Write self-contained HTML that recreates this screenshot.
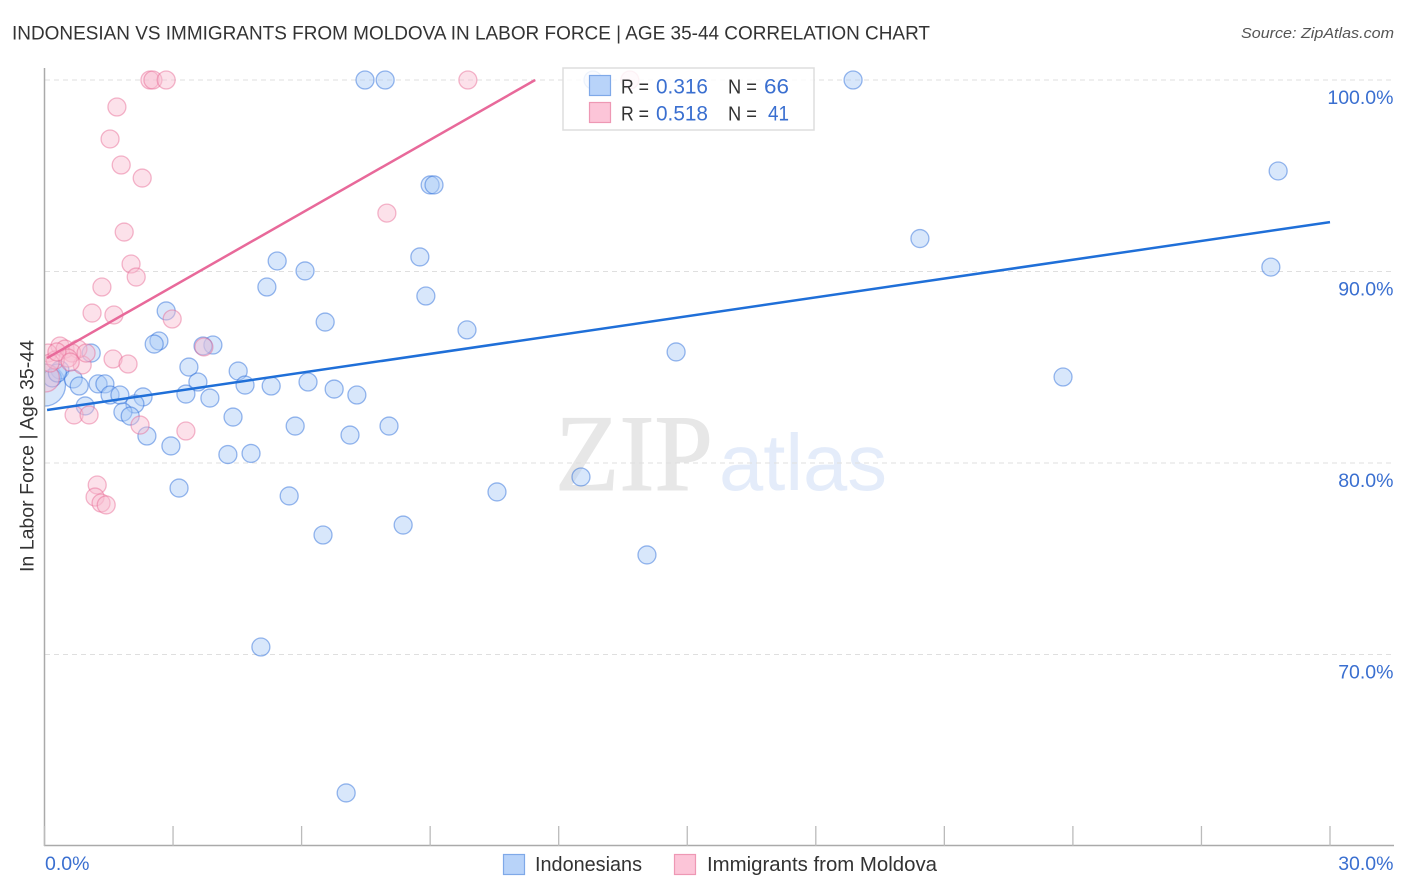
<!DOCTYPE html>
<html lang="en">
<head>
<meta charset="utf-8">
<title>Indonesian vs Immigrants from Moldova in Labor Force | Age 35-44 Correlation Chart</title>
<style>
html,body{margin:0;padding:0;background:#fff;}
svg{display:block;font-family:"Liberation Sans",sans-serif;}
</style>
</head>
<body>
<svg id="chart" xmlns="http://www.w3.org/2000/svg" width="1406" height="892" viewBox="0 0 1406 892">
  <defs><clipPath id="plot-clip"><rect x="45" y="40" width="1361" height="806"/></clipPath></defs>
  <rect x="0" y="0" width="1406" height="892" fill="#fff"/>
  <text x="12" y="39.500" font-size="19.500" fill="#333" textLength="918" lengthAdjust="spacingAndGlyphs">INDONESIAN VS IMMIGRANTS FROM MOLDOVA IN LABOR FORCE | AGE 35-44 CORRELATION CHART</text>
  <text x="1241" y="38" font-size="15" font-style="italic" fill="#555" textLength="153" lengthAdjust="spacingAndGlyphs">Source: ZipAtlas.com</text>
  <g>
    <text x="555" y="490" font-family="'Liberation Serif',serif" font-size="109" fill="#e7e7e7" stroke="#e7e7e7" stroke-width="1" textLength="158" lengthAdjust="spacingAndGlyphs">ZIP</text>
    <text x="719" y="490" font-size="80" fill="#e4ecfa" textLength="168" lengthAdjust="spacingAndGlyphs">atlas</text>
  </g>
  <g id="grid"></g>
  <g id="points" clip-path="url(#plot-clip)"></g>
  <g id="lines" clip-path="url(#plot-clip)"></g>
  <rect x="0" y="60" width="44.500" height="786" fill="#fff"/>
  <g id="axes"></g>
  <text transform="translate(33.500,572) rotate(-90)" font-size="19" fill="#333" textLength="232" lengthAdjust="spacingAndGlyphs">In Labor Force | Age 35-44</text>
  <g>
    <rect x="563" y="68" width="251" height="62" fill="#fff" fill-opacity="0.84" stroke="#dedede" stroke-width="1.500"/>
    <rect x="589.500" y="75.500" width="21" height="20" fill="#b8d3f9" stroke="#7fa9e8" stroke-width="1.200"/>
    <rect x="589.500" y="102.500" width="21" height="20" fill="#fcc5d8" stroke="#ee98b4" stroke-width="1.200"/>
    <text x="621" y="93.500" font-size="20" fill="#333" textLength="28" lengthAdjust="spacingAndGlyphs">R =</text>
    <text x="656" y="93.500" font-size="21" fill="#3a6fd0" textLength="52" lengthAdjust="spacingAndGlyphs">0.316</text>
    <text x="728" y="93.500" font-size="20" fill="#333" textLength="29" lengthAdjust="spacingAndGlyphs">N =</text>
    <text x="764" y="93.500" font-size="21" fill="#3a6fd0" textLength="25" lengthAdjust="spacingAndGlyphs">66</text>
    <text x="621" y="120.500" font-size="20" fill="#333" textLength="28" lengthAdjust="spacingAndGlyphs">R =</text>
    <text x="656" y="120.500" font-size="21" fill="#3a6fd0" textLength="52" lengthAdjust="spacingAndGlyphs">0.518</text>
    <text x="728" y="120.500" font-size="20" fill="#333" textLength="29" lengthAdjust="spacingAndGlyphs">N =</text>
    <text x="768" y="120.500" font-size="21" fill="#3a6fd0" textLength="21" lengthAdjust="spacingAndGlyphs">41</text>
  </g>
  <g>
    <g>
      <rect x="503.500" y="854.500" width="21" height="20" fill="#b8d3f9" stroke="#7fa9e8" stroke-width="1.200"/>
      <text x="535" y="871" font-size="20" fill="#333" textLength="107" lengthAdjust="spacingAndGlyphs">Indonesians</text>
    </g>
    <g>
      <rect x="674.500" y="854.500" width="21" height="20" fill="#fcc5d8" stroke="#ee98b4" stroke-width="1.200"/>
      <text x="707" y="871" font-size="20" fill="#333" textLength="230" lengthAdjust="spacingAndGlyphs">Immigrants from Moldova</text>
    </g>
  </g>
</svg>
<script>
const yTickValues = [100, 90, 80, 70];
const yTickLabels = ['100.0%', '90.0%', '80.0%', '70.0%'];
const xTickValues = [0, 3, 6, 9, 12, 15, 18, 21, 24, 27, 30];
const xEndLabels = ['0.0%', '30.0%'];

const indonesianX = [0, 12.80, 7.48, 7.95, 18.87, 28.79, 9.00, 9.09, 20.43, 28.62, 5.43, 6.08, 8.76, 5.19, 8.90, 2.84, 6.55, 9.86, 2.67, 2.56, 3.93, 3.70, 1.09, 14.74, 3.37, 4.52, 0.36, 0.18, 0.67, 0.81, 1.25, 1.41, 3.58, 4.68, 5.29, 6.15, 6.76, 7.29, 23.77, 1.53, 1.76, 2.30, 2.11, 3.30, 3.86, 0.95, 1.83, 2.00, 4.40, 5.85, 2.39, 7.13, 8.04, 2.95, 4.28, 4.82, 3.14, 5.71, 10.56, 12.52, 6.50, 8.37, 14.06, 5.05, 7.04, 0.30];
const indonesianY = [84.07, 100, 100, 100, 100, 95.25, 94.52, 94.52, 91.72, 90.23, 90.55, 90.03, 90.76, 89.19, 88.72, 87.94, 87.36, 86.95, 86.37, 86.21, 86.16, 86.11, 85.74, 85.80, 85.01, 84.80, 84.86, 84.44, 84.39, 84.02, 84.13, 84.13, 84.23, 84.07, 84.02, 84.23, 83.86, 83.55, 84.49, 83.55, 83.55, 83.45, 83.08, 83.60, 83.39, 82.98, 82.66, 82.45, 82.40, 81.93, 81.41, 81.46, 81.93, 80.89, 80.44, 80.50, 78.69, 78.28, 78.49, 79.27, 76.24, 76.76, 75.20, 70.39, 62.77, 84.70];

const moldovaX = [0.02, 2.46, 2.53, 2.84, 9.88, 13.66, 1.69, 1.53, 1.79, 2.28, 7.99, 1.86, 2.02, 2.14, 1.34, 1.11, 1.62, 2.98, 3.72, 1.60, 1.95, 0.88, 0.36, 0.48, 0.78, 0.08, 0.64, 0.97, 0.55, 0.25, 0.13, 0.29, 0.60, 0.69, 1.04, 3.30, 2.23, 1.23, 1.18, 1.32, 1.44];
const moldovaY = [84.44, 100, 100, 100, 100, 100, 98.59, 96.92, 95.56, 94.88, 93.05, 92.06, 90.39, 89.71, 89.19, 87.83, 87.73, 87.52, 86.06, 85.43, 85.17, 85.12, 86.11, 85.95, 85.95, 85.74, 85.74, 85.74, 85.48, 85.38, 85.22, 85.80, 85.27, 82.51, 82.51, 81.67, 81.98, 78.85, 78.22, 77.91, 77.81];

const indonesianTrendX = [0.06, 30];
const indonesianTrendY = [82.77, 92.58];
const moldovaTrendX = [0.06, 11.45];
const moldovaTrendY = [85.48, 100];

const largeIndonesianPoint = 0;
const largeMoldovaPoint = 0;

function xScale(v) { return 44.5 + v * 42.85; }
function yScale(v) { return 80 + (100 - v) * 19.15; }
function make(tag) { return document.createElementNS('http://www.w3.org/2000/svg', tag); }

const grid = document.getElementById('grid');
const axes = document.getElementById('axes');
const pointsLayer = document.getElementById('points');
const linesLayer = document.getElementById('lines');

yTickValues.forEach(function (v, i) {
  const line = make('line');
  
  
  line.setAttribute('x1', 45);
  line.setAttribute('x2', 1394);
  line.setAttribute('y1', yScale(v));
  line.setAttribute('y2', yScale(v));
  line.setAttribute('stroke', '#dfdfdf');
  line.setAttribute('stroke-width', '1');
  line.setAttribute('stroke-dasharray', '5 4');
  grid.appendChild(line);

  const label = make('text');
  
  
  label.setAttribute('x', 1393.5);
  label.setAttribute('y', yScale(v) + 24);
  label.setAttribute('text-anchor', 'end');
  label.setAttribute('font-size', '19.5');
  label.setAttribute('fill', '#3a6fd0');
  label.textContent = yTickLabels[i];
  axes.appendChild(label);
});

const yAxis = make('line');


yAxis.setAttribute('x1', 44.5);
yAxis.setAttribute('x2', 44.5);
yAxis.setAttribute('y1', 68);
yAxis.setAttribute('y2', 846);
yAxis.setAttribute('stroke', '#aaa');
yAxis.setAttribute('stroke-width', '1.500');
axes.appendChild(yAxis);

const xAxis = make('line');


xAxis.setAttribute('x1', 44);
xAxis.setAttribute('x2', 1394);
xAxis.setAttribute('y1', 845.5);
xAxis.setAttribute('y2', 845.5);
xAxis.setAttribute('stroke', '#aaa');
xAxis.setAttribute('stroke-width', '1.500');
axes.appendChild(xAxis);

xTickValues.forEach(function (v) {
  const tick = make('line');
  
  
  tick.setAttribute('x1', xScale(v));
  tick.setAttribute('x2', xScale(v));
  tick.setAttribute('y1', 826);
  tick.setAttribute('y2', 846);
  tick.setAttribute('stroke', '#bbb');
  tick.setAttribute('stroke-width', '1.300');
  axes.appendChild(tick);
});

const xLabelStart = make('text');


xLabelStart.setAttribute('x', 45);
xLabelStart.setAttribute('y', 870);
xLabelStart.setAttribute('font-size', '19.5');
xLabelStart.setAttribute('fill', '#3a6fd0');
xLabelStart.textContent = xEndLabels[0];
axes.appendChild(xLabelStart);

const xLabelEnd = make('text');


xLabelEnd.setAttribute('x', 1393.5);
xLabelEnd.setAttribute('y', 870);
xLabelEnd.setAttribute('text-anchor', 'end');
xLabelEnd.setAttribute('font-size', '19.5');
xLabelEnd.setAttribute('fill', '#3a6fd0');
xLabelEnd.textContent = xEndLabels[1];
axes.appendChild(xLabelEnd);

indonesianX.forEach(function (v, i) {
  const c = make('circle');
  
  
  c.setAttribute('cx', xScale(v));
  c.setAttribute('cy', yScale(indonesianY[i]));
  c.setAttribute('r', i === largeIndonesianPoint ? 21 : 9);
  c.setAttribute('fill', 'rgba(168,201,246,0.45)');
  c.setAttribute('stroke', 'rgba(30,100,215,0.45)');
  c.setAttribute('stroke-width', '1.300');
  pointsLayer.appendChild(c);
});

moldovaX.forEach(function (v, i) {
  const c = make('circle');
  
  
  c.setAttribute('cx', xScale(v));
  c.setAttribute('cy', yScale(moldovaY[i]));
  c.setAttribute('r', i === largeMoldovaPoint ? 14 : 9);
  c.setAttribute('fill', 'rgba(248,189,208,0.45)');
  c.setAttribute('stroke', 'rgba(230,100,145,0.45)');
  c.setAttribute('stroke-width', '1.300');
  pointsLayer.appendChild(c);
});

const blueTrend = make('line');


blueTrend.setAttribute('x1', xScale(indonesianTrendX[0]));
blueTrend.setAttribute('y1', yScale(indonesianTrendY[0]));
blueTrend.setAttribute('x2', xScale(indonesianTrendX[1]));
blueTrend.setAttribute('y2', yScale(indonesianTrendY[1]));
blueTrend.setAttribute('stroke', '#1f6fd8');
blueTrend.setAttribute('stroke-width', '2.500');
linesLayer.appendChild(blueTrend);

const pinkTrend = make('line');


pinkTrend.setAttribute('x1', xScale(moldovaTrendX[0]));
pinkTrend.setAttribute('y1', yScale(moldovaTrendY[0]));
pinkTrend.setAttribute('x2', xScale(moldovaTrendX[1]));
pinkTrend.setAttribute('y2', yScale(moldovaTrendY[1]));
pinkTrend.setAttribute('stroke', '#e8699a');
pinkTrend.setAttribute('stroke-width', '2.500');
linesLayer.appendChild(pinkTrend);
</script>
</body>
</html>
